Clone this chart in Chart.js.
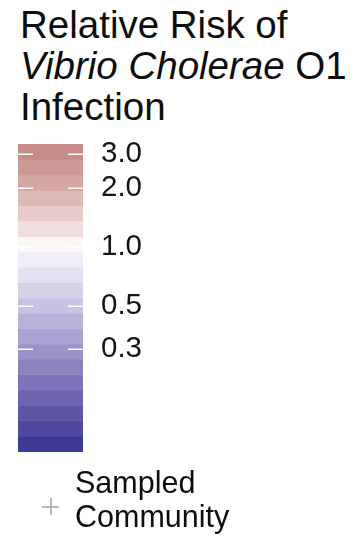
<!DOCTYPE html>
<html>
<head>
<meta charset="utf-8">
<script src="https://cdn.jsdelivr.net/npm/chart.js@4/dist/chart.umd.min.js"></script>
<style>
  html, body { margin: 0; padding: 0; background: #ffffff; }
  #wrap { position: relative; width: 364px; height: 536px; overflow: hidden; }
  #scale { position: absolute; left: 0; top: 0; }
  .title {
    position: absolute; left: 20px; top: 4px;
    font-family: "Liberation Sans", Arial, Helvetica, sans-serif;
    font-size: 38.5px; line-height: 41px; color: #0d0d0d; white-space: nowrap;
  }
  .title i { font-style: italic; }
  .key {
    position: absolute; left: 75px; top: 465px;
    font-family: "Liberation Sans", Arial, Helvetica, sans-serif;
    font-size: 30.5px; line-height: 34px; color: #0d0d0d; white-space: nowrap;
  }
  .plus { position: absolute; left: 42px; top: 498px; width: 17px; height: 17px; }
  .plus::before, .plus::after { content: ""; position: absolute; background: #b8b8b8; }
  .plus::before { left: 0; top: 8px; width: 17px; height: 1.5px; }
  .plus::after { left: 8px; top: 0; width: 1.5px; height: 17px; }
</style>
</head>
<body>
<div id="wrap">
  <div class="title">Relative Risk of<br><i>Vibrio Cholerae</i> O1<br>Infection</div>
  <canvas id="scale" width="364" height="536"></canvas>
  <div class="plus"></div>
  <div class="key">Sampled<br>Community</div>
</div>
<script>
// Relative-risk class boundaries of the colour key, from highest to lowest
const bandEdges = [3.37, 2.81, 2.34, 1.95, 1.63, 1.36, 1.13, 0.945, 0.788, 0.657,
                   0.548, 0.457, 0.382, 0.318, 0.266, 0.222, 0.185, 0.154, 0.129, 0.107, 0.089];
// Labelled relative-risk values on the key
const tickValues = [0.3, 0.5, 1.0, 2.0, 3.0];
// Single category for the key column
const categories = ["RR"];

// Diverging red-white-blue fills, one per class (top to bottom)
const bandColors = [
  "rgb(200,140,136)", "rgb(206,152,148)", "rgb(214,167,163)", "rgb(223,185,182)",
  "rgb(232,204,201)", "rgb(241,223,221)", "rgb(251,247,246)", "rgb(240,238,248)",
  "rgb(228,225,241)", "rgb(214,210,233)", "rgb(200,195,226)", "rgb(185,178,218)",
  "rgb(170,162,210)", "rgb(155,146,201)", "rgb(140,130,192)", "rgb(125,115,184)",
  "rgb(110,100,175)", "rgb(95,86,166)", "rgb(80,72,158)", "rgb(60,58,148)"
];

const datasets = [];
for (let i = 0; i < bandEdges.length - 1; i++) {
  datasets.push({
    data: [[bandEdges[i + 1], bandEdges[i]]],
    backgroundColor: bandColors[i],
    borderWidth: 0,
    grouped: false,
    barPercentage: 1,
    categoryPercentage: 1
  });
}

// Short white notches inside the key at each labelled value
const notches = {
  id: "notches",
  afterDatasetsDraw(chart) {
    const { ctx, chartArea } = chart;
    const y = chart.scales.y;
    ctx.save();
    ctx.strokeStyle = "#ffffff";
    ctx.lineWidth = 1.5;
    tickValues.forEach(v => {
      const py = Math.round(y.getPixelForValue(v)) + 0.25;
      ctx.beginPath();
      ctx.moveTo(chartArea.left, py);
      ctx.lineTo(chartArea.left + 15, py);
      ctx.moveTo(chartArea.right - 15, py);
      ctx.lineTo(chartArea.right, py);
      ctx.stroke();
    });
    ctx.restore();
  }
};

new Chart(document.getElementById("scale"), {
  type: "bar",
  data: { labels: categories, datasets },
  options: {
    responsive: false,
    animation: false,
    devicePixelRatio: 1,
    layout: { padding: { left: 18, top: 144, bottom: 84, right: 221 } },
    plugins: { legend: { display: false }, tooltip: { enabled: false }, title: { display: false } },
    scales: {
      x: { display: false },
      y: {
        type: "logarithmic",
        position: "right",
        min: bandEdges[bandEdges.length - 1],
        max: bandEdges[0],
        grid: { display: false, drawTicks: false },
        border: { display: false },
        afterBuildTicks(scale) { scale.ticks = tickValues.map(v => ({ value: v })); },
        afterFit(scale) { scale.width = 60; },
        ticks: {
          autoSkip: false,
          padding: 18,
          color: "#151515",
          font: { family: "'Liberation Sans', Arial, Helvetica, sans-serif", size: 29.5 },
          callback: (value) => Number(value).toFixed(1)
        }
      }
    }
  },
  plugins: [notches]
});
</script>
</body>
</html>
